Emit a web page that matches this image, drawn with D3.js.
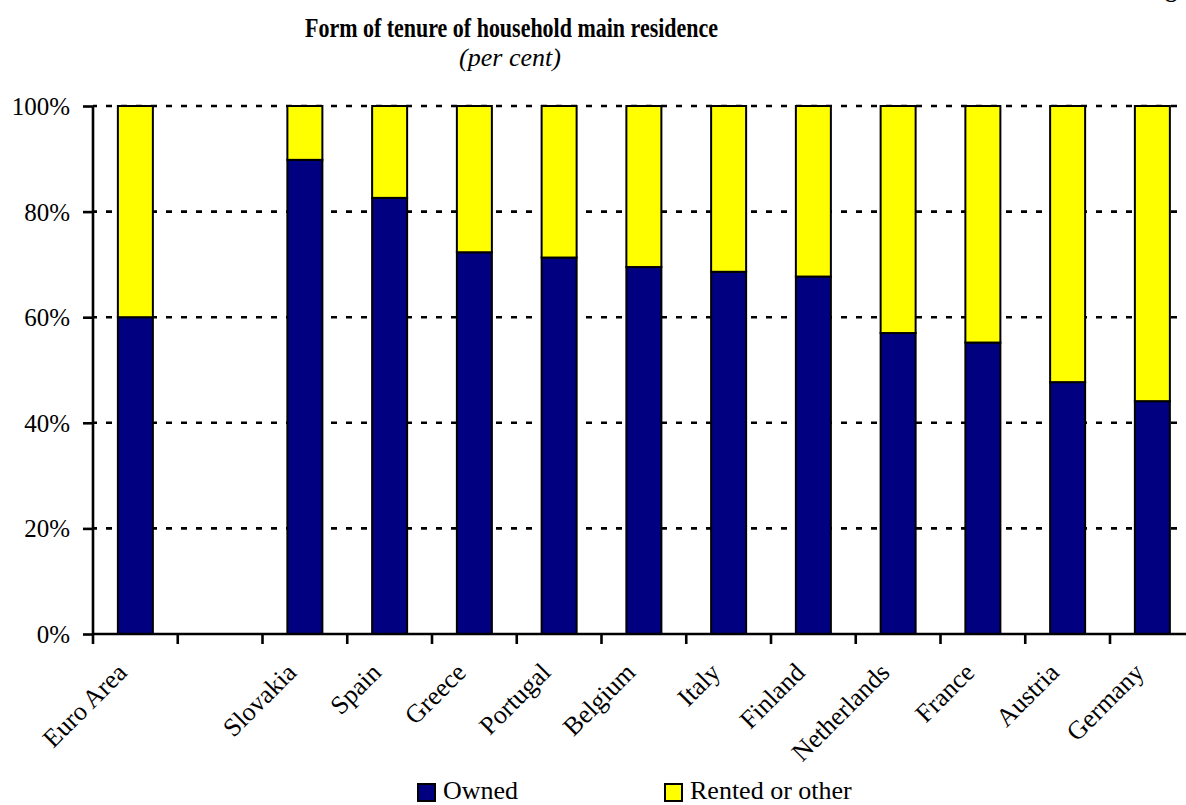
<!DOCTYPE html>
<html>
<head>
<meta charset="utf-8">
<script src="https://cdn.jsdelivr.net/npm/d3@7"></script>
<style>
  html, body { margin: 0; padding: 0; background: #fff; }
  svg text { font-family: "Liberation Serif", "Times New Roman", serif; }
</style>
</head>
<body>
<svg id="chart" width="1186" height="805"></svg>
<script>
// Countries (an empty slot separates the euro-area aggregate from the countries)
const categories = ["Euro Area", "", "Slovakia", "Spain", "Greece", "Portugal", "Belgium",
  "Italy", "Finland", "Netherlands", "France", "Austria", "Germany"];
// Share of households owning their main residence (per cent)
const owned = [60.0, null, 89.8, 82.6, 72.3, 71.3, 69.5, 68.6, 67.7, 57.0, 55.2, 47.7, 44.1];
// Share renting or other forms of tenure (per cent)
const rented = owned.map(v => v == null ? null : 100 - v);
const yTicks = [0, 20, 40, 60, 80, 100];
const seriesNames = ["Owned", "Rented or other"];
const seriesColors = ["#000080", "#FFFF00"];

const FONT = "'Liberation Serif', 'Times New Roman', serif";
const svg = d3.select("#chart").attr("font-family", FONT);

const plot = { left: 93, top: 106, bottom: 634, right: 1194.75 };
const barFrac = 0.413;

const x = d3.scaleBand()
  .domain(categories.map((c, i) => i))
  .range([plot.left, plot.right])
  .paddingInner(1 - barFrac)
  .paddingOuter((1 - barFrac) / 2);
const step = x.step();

const y = d3.scaleLinear().domain([0, 100]).range([plot.bottom, plot.top]);

// Figure label at the top right (mostly outside the page)
svg.append("text")
  .attr("x", 1144).attr("y", -3)
  .attr("font-family", FONT)
  .attr("font-size", 24).attr("font-weight", "bold")
  .text("Figure");

// Title
svg.append("text")
  .attr("x", 305).attr("y", 37)
  .attr("font-family", FONT)
  .attr("font-size", 28).attr("font-weight", "bold")
  .attr("textLength", 413).attr("lengthAdjust", "spacingAndGlyphs")
  .text("Form of tenure of household main residence");
svg.append("text")
  .attr("x", 510).attr("y", 66)
  .attr("text-anchor", "middle")
  .attr("font-family", FONT)
  .attr("font-size", 26).attr("font-style", "italic")
  .text("(per cent)");

// Dotted gridlines
svg.append("g")
  .selectAll("line")
  .data(yTicks.filter(t => t > 0))
  .join("line")
  .attr("x1", plot.left).attr("x2", 1186)
  .attr("y1", d => y(d)).attr("y2", d => y(d))
  .attr("stroke", "#000").attr("stroke-width", 2.6)
  .attr("stroke-dasharray", "6,9").attr("stroke-dashoffset", 2);

// Stacked bars
const bars = svg.append("g");
const idx = categories.map((c, i) => i).filter(i => owned[i] != null);
bars.selectAll("rect.owned")
  .data(idx)
  .join("rect")
  .attr("class", "owned")
  .attr("x", i => x(i))
  .attr("width", x.bandwidth())
  .attr("y", i => y(owned[i]))
  .attr("height", i => y(0) - y(owned[i]))
  .attr("fill", seriesColors[0])
  .attr("stroke", "#000").attr("stroke-width", 2);
bars.selectAll("rect.rented")
  .data(idx)
  .join("rect")
  .attr("class", "rented")
  .attr("x", i => x(i))
  .attr("width", x.bandwidth())
  .attr("y", i => y(owned[i] + rented[i]))
  .attr("height", i => y(owned[i]) - y(owned[i] + rented[i]))
  .attr("fill", seriesColors[1])
  .attr("stroke", "#000").attr("stroke-width", 2);

// Y axis
const yAxis = svg.append("g")
  .attr("transform", `translate(${plot.left},0)`)
  .call(d3.axisLeft(y).tickValues(yTicks).tickFormat(d => d + "%").tickSize(10).tickPadding(13));
yAxis.attr("font-family", FONT);
yAxis.select(".domain").attr("stroke-width", 2.6).attr("d", `M0,${plot.bottom}V${plot.top}`);
yAxis.selectAll(".tick line").attr("stroke-width", 2.6);
yAxis.selectAll(".tick text")
  .attr("font-size", 25)
  .attr("font-family", FONT)
  .attr("fill", "#000")
  .attr("dy", "0.34em");

// X axis: baseline, slot boundary ticks and rotated labels
const xg = svg.append("g");
xg.append("line")
  .attr("x1", plot.left).attr("x2", 1186)
  .attr("y1", plot.bottom).attr("y2", plot.bottom)
  .attr("stroke", "#000").attr("stroke-width", 2.6);
xg.selectAll("line.tick")
  .data(d3.range(categories.length + 1))
  .join("line")
  .attr("class", "tick")
  .attr("x1", k => plot.left + k * step).attr("x2", k => plot.left + k * step)
  .attr("y1", plot.bottom).attr("y2", plot.bottom + 10)
  .attr("stroke", "#000").attr("stroke-width", 2.6);
xg.selectAll("text")
  .data(categories.map((c, i) => i).filter(i => categories[i] !== ""))
  .join("text")
  .attr("text-anchor", "end")
  .attr("font-family", FONT)
  .attr("font-size", 26)
  .attr("transform", i => `translate(${x(i) + x.bandwidth() / 2 - 7},674) rotate(-45)`)
  .text(i => categories[i]);

// Legend
const legendX = [418, 665];
const lg = svg.append("g");
seriesNames.forEach((name, j) => {
  lg.append("rect")
    .attr("x", legendX[j]).attr("y", 784)
    .attr("width", 17).attr("height", 17)
    .attr("fill", seriesColors[j])
    .attr("stroke", "#000").attr("stroke-width", 2);
  lg.append("text")
    .attr("x", legendX[j] + 25).attr("y", 799)
    .attr("font-family", FONT)
    .attr("font-size", 26)
    .text(name);
});
</script>
</body>
</html>
